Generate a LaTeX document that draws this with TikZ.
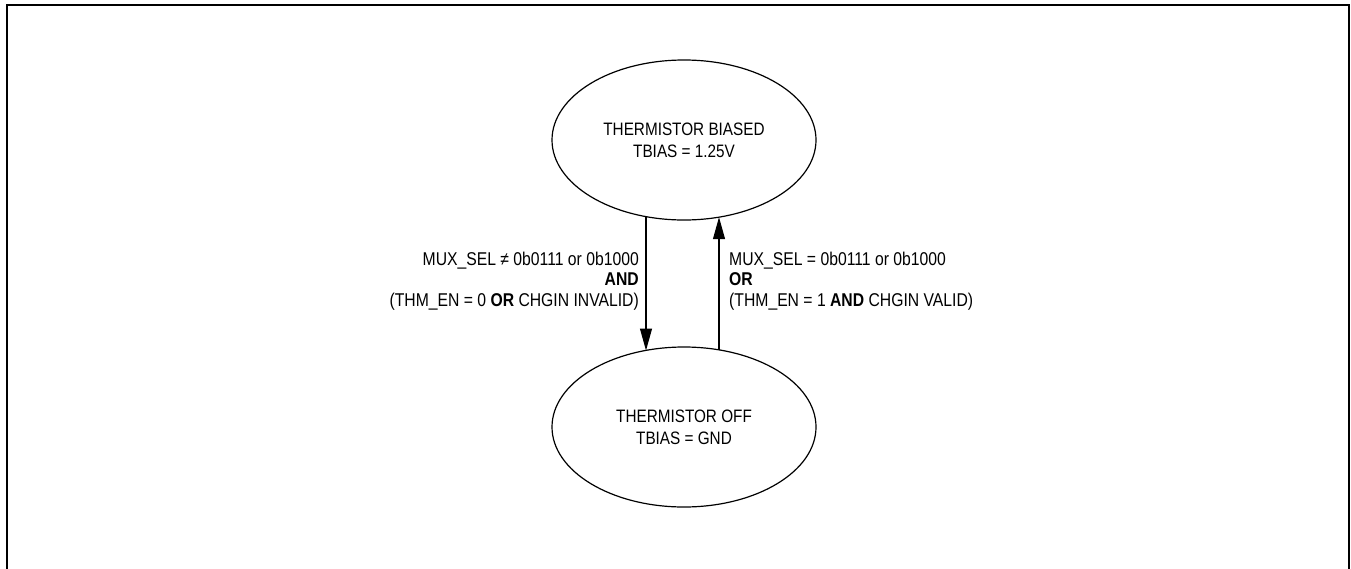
\documentclass[tikz,border=0pt]{standalone}
\usepackage{fontspec}
\setmainfont{Liberation Sans}[FakeStretch=0.85]
\usetikzlibrary{arrows.meta,shapes.geometric,calc}
\begin{document}
\begin{tikzpicture}[x=1pt,y=-1pt,
  state/.style={ellipse,draw,line width=1.2pt,minimum width=264pt,minimum height=160pt,inner sep=0pt,outer sep=0pt,align=center,font=\fontsize{18}{22}\selectfont},
  trans/.style={line width=1.1pt,-{Triangle[length=22pt,width=12pt]}},
  lbl/.style={font=\fontsize{18.5}{20.5}\selectfont,inner sep=0pt}]
\useasboundingbox (0,0) rectangle (1351,568);
\draw[line width=2pt] (6.5,600) -- (6.5,5) -- (1349,5) -- (1349,600);
\node[state] (biased) at (684,140) {THERMISTOR BIASED\\TBIAS = 1.25V};
\node[state] (off) at (684,427) {THERMISTOR OFF\\TBIAS = GND};
\draw[trans] ($(biased.center)+(-38,76.5)$) coordinate (d1) -- ($(off.center)+(-38,-76.5)$) coordinate (d2);
\draw[trans] ($(off.center)+(35,-77.2)$) coordinate (u1) -- ($(biased.center)+(35,77.2)$) coordinate (u2);
\node[lbl,anchor=east,align=right] (ldown) at (639,281) {MUX\_SEL ≠ 0b0111 or 0b1000\\\textbf{AND}\\(THM\_EN = 0 \textbf{OR} CHGIN INVALID)};
\node[lbl,anchor=west,align=left] (lup) at (729,281) {MUX\_SEL = 0b0111 or 0b1000\\\textbf{OR}\\(THM\_EN = 1 \textbf{AND} CHGIN VALID)};
\end{tikzpicture}
\end{document}
